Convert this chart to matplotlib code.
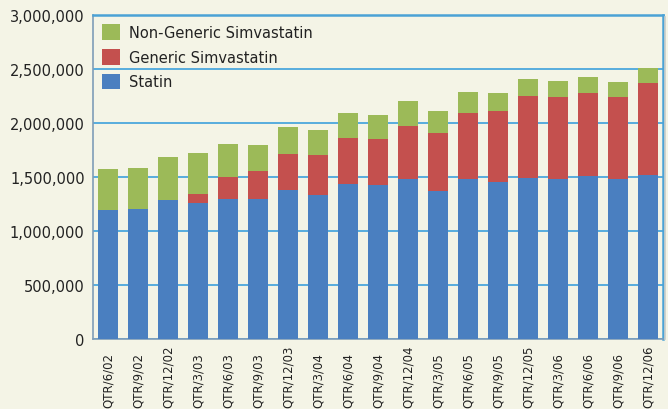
import matplotlib
matplotlib.use("Agg")
import matplotlib.pyplot as plt
from matplotlib.ticker import FuncFormatter
from matplotlib.transforms import blended_transform_factory
import numpy as np

categories = ["QTR/6/02", "QTR/9/02", "QTR/12/02", "QTR/3/03", "QTR/6/03", "QTR/9/03",
              "QTR/12/03", "QTR/3/04", "QTR/6/04", "QTR/9/04", "QTR/12/04", "QTR/3/05",
              "QTR/6/05", "QTR/9/05", "QTR/12/05", "QTR/3/06", "QTR/6/06", "QTR/9/06",
              "QTR/12/06"]
statin = [1194000, 1204000, 1287000, 1259000, 1296000, 1296000, 1380000, 1333000,
          1435000, 1426000, 1481000, 1370000, 1481000, 1454000, 1491000, 1481000,
          1509000, 1481000, 1519000]
generic = [0, 0, 0, 84000, 204000, 260000, 333000, 371000, 426000, 426000, 491000,
           537000, 612000, 657000, 759000, 760000, 769000, 760000, 851000]
nongeneric = [380000, 379000, 398000, 379000, 306000, 240000, 250000, 231000, 232000,
              222000, 232000, 204000, 194000, 167000, 157000, 148000, 148000, 139000, 139000]

bg = "#F4F4E6"
c_blue = "#4A7FC0"
c_red = "#C4504E"
c_green = "#9CBA58"
grid_c = "#3DA0DC"

fig = plt.figure(figsize=(6.68, 4.10), dpi=100, facecolor=bg)
ax = fig.add_axes([93/668, 70/410, 570/668, 324/410])
ax.set_facecolor(bg)

x = np.arange(len(categories))
statin_a = np.array(statin)
generic_a = np.array(generic)
non_a = np.array(nongeneric)
w = 2/3
ax.bar(x, statin_a, w, color=c_blue, label="Statin", zorder=3)
ax.bar(x, generic_a, w, bottom=statin_a, color=c_red, label="Generic Simvastatin", zorder=3)
ax.bar(x, non_a, w, bottom=statin_a + generic_a, color=c_green, label="Non-Generic Simvastatin", zorder=3)

ax.set_xlim(-0.5, len(categories) - 0.5)
ax.set_ylim(0, 3000000)
ax.set_yticks(np.arange(0, 3000001, 500000))
ax.yaxis.set_major_formatter(FuncFormatter(lambda v, p: f"{int(v):,}"))
ax.grid(axis="y", color=grid_c, linewidth=1.2, zorder=0)
ax.set_xticks(x)
ax.set_xticklabels([])
ax.tick_params(axis="x", length=0)
ax.tick_params(axis="y", length=0, pad=6, labelsize=10.5, labelcolor="#222222")

# category labels, rotated, anchored at the bottom of the figure
trans = blended_transform_factory(ax.transData, fig.transFigure)
for xi, lab in zip(x, categories):
    ax.text(xi, 2/410, lab, rotation=90, ha="center", va="bottom", fontsize=8.5,
            color="#222222", transform=trans, clip_on=False)

for s in ["left", "bottom"]:
    ax.spines[s].set_color("#7F9DB8")
    ax.spines[s].set_linewidth(1.2)
for s in ["top", "right"]:
    ax.spines[s].set_color("#4AA2D6")
    ax.spines[s].set_linewidth(1.8)

# subtle shadow to the right of the frame
fig.add_artist(plt.Line2D([665/668, 665/668], [70/410, 392/410], transform=fig.transFigure,
                          color="#C8CCC8", linewidth=1.2))

handles, labels = ax.get_legend_handles_labels()
leg = ax.legend(handles[::-1], labels[::-1], loc="upper left", frameon=False, fontsize=10.5,
                handlelength=1.2, handleheight=1.25, labelspacing=0.62, handletextpad=0.6,
                bbox_to_anchor=(0.0, 1.0), borderaxespad=0.25)
for t in leg.get_texts():
    t.set_color("#222222")

fig.savefig("out.png", dpi=100, facecolor=bg)
